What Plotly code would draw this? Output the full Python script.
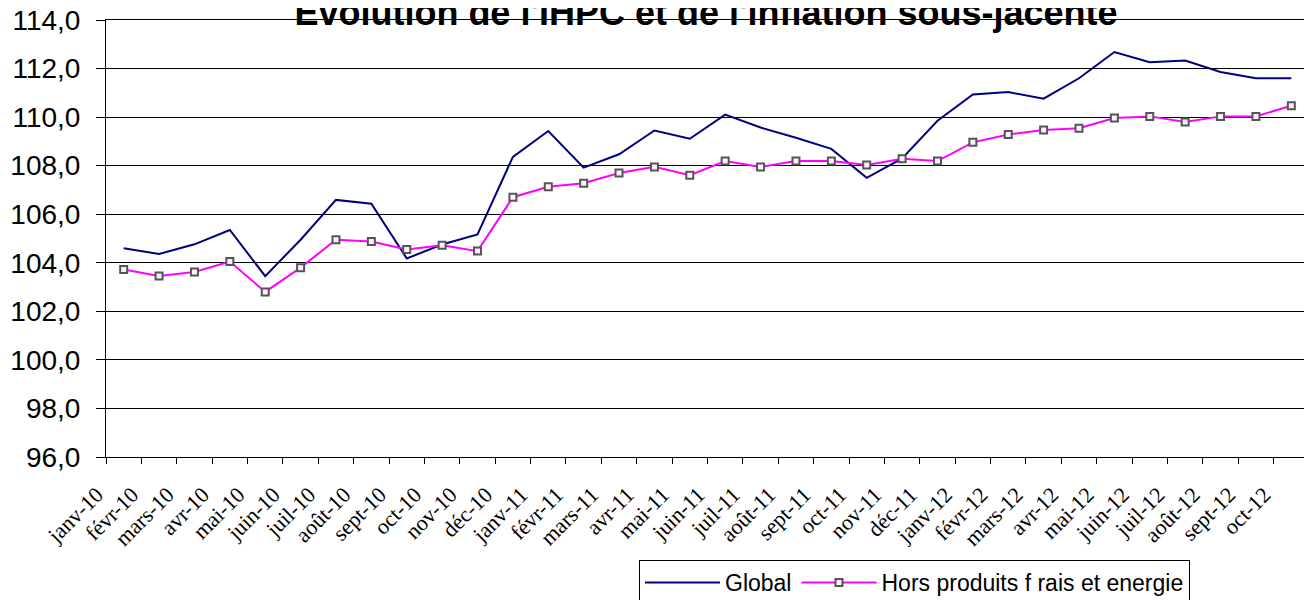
import plotly.graph_objects as go

mois = ["janv-10", "févr-10", "mars-10", "avr-10", "mai-10", "juin-10", "juil-10", "août-10",
        "sept-10", "oct-10", "nov-10", "déc-10",
        "janv-11", "févr-11", "mars-11", "avr-11", "mai-11", "juin-11", "juil-11", "août-11",
        "sept-11", "oct-11", "nov-11", "déc-11",
        "janv-12", "févr-12", "mars-12", "avr-12", "mai-12", "juin-12", "juil-12", "août-12",
        "sept-12", "oct-12"]

global_ihpc = [104.60, 104.36, 104.76, 105.35, 103.45, 104.95, 106.59, 106.43, 104.18, 104.75,
               105.17, 108.36, 109.43, 107.92, 108.47, 109.45, 109.11, 110.10, 109.57, 109.15,
               108.69, 107.50, 108.30, 109.85, 110.93, 111.03, 110.76, 111.60, 112.68, 112.26,
               112.33, 111.86, 111.60, 111.60]

hors_pfe = [103.72, 103.46, 103.62, 104.05, 102.80, 103.80, 104.95, 104.88, 104.55, 104.72,
            104.48, 106.70, 107.13, 107.28, 107.70, 107.95, 107.61, 108.19, 107.95, 108.19,
            108.19, 108.03, 108.28, 108.19, 108.96, 109.28, 109.47, 109.54, 109.96, 110.03,
            109.80, 110.03, 110.03, 110.47]

y_ticks = [96, 98, 100, 102, 104, 106, 108, 110, 112, 114]

fig = go.Figure()
fig.add_trace(go.Scatter(
    x=mois, y=global_ihpc, name="Global", mode="lines",
    line=dict(color="#000080", width=2),
))
fig.add_trace(go.Scatter(
    x=mois, y=hors_pfe, name="Hors produits f rais et energie", mode="lines+markers",
    line=dict(color="#FF00FF", width=2),
    marker=dict(symbol="square", size=7, color="#FFF0FF", line=dict(color="#555555", width=2)),
))

# the page body adds an 8px offset; figure coordinates are page coordinates minus 8
OFF = 8
W, H = 1312 - OFF, 600 - OFF
L, R, T, B = 106 - OFF, 3, 20 - OFF, 143
pw = W - L - R
ph = H - T - B

fig.update_layout(
    width=W, height=H,
    margin=dict(l=L, r=R, t=T, b=B, pad=0, autoexpand=False),
    paper_bgcolor="white", plot_bgcolor="white",
    separators=", ",
    title=dict(
        text="<b>Evolution de l'IHPC et de l'inflation sous-jacente</b>",
        font=dict(family="Liberation Sans, Arial", size=36, color="black"),
        x=(706 - OFF - L) / pw, xref="paper", xanchor="center",
        y=1 - 4 / H, yref="container", yanchor="middle",
        automargin=False,
    ),
    font=dict(family="Liberation Sans, Arial", color="black"),
    showlegend=True,
    legend=dict(
        orientation="h",
        x=(639 - OFF - L) / pw, xanchor="left",
        y=-(560 - OFF - (H - B)) / ph, yanchor="top",
        bordercolor="black", borderwidth=1,
        bgcolor="white",
        font=dict(family="Liberation Sans, Arial", size=23, color="black"),
        itemwidth=75,
        traceorder="normal",
    ),
    xaxis=dict(
        type="category",
        range=[-0.5, len(mois) - 0.5],
        automargin=False,
        showline=True, linecolor="black", linewidth=1, mirror=True,
        showgrid=False,
        ticks="outside", ticklen=6, tickcolor="black", tickwidth=1,
        tickson="boundaries",
        tickangle=-45,
        ticklabelshift=-27,
        ticklabelstandoff=15,
        ticklabeloverflow="allow",
        tickfont=dict(family="Liberation Serif, Times New Roman", size=22, color="black"),
    ),
    yaxis=dict(
        range=[96, 114],
        tickvals=y_ticks,
        tickformat=".1f",
        automargin=False,
        showline=True, linecolor="black", linewidth=1, mirror=True,
        showgrid=True, gridcolor="black", gridwidth=1,
        ticks="outside", ticklen=9, tickcolor="black", tickwidth=1,
        ticklabelstandoff=10,
        ticklabeloverflow="allow",
        tickfont=dict(family="Liberation Sans, Arial", size=28, color="black"),
        zeroline=False,
    ),
)

fig.write_html("out.html")
